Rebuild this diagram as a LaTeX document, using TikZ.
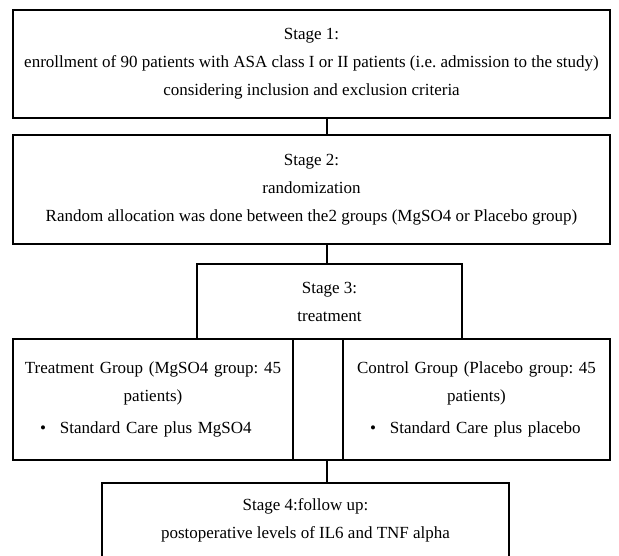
\documentclass[tikz,border=0pt]{standalone}
\usepackage{fontspec}
\setmainfont{Liberation Serif}
\newlength{\du}
\setlength{\du}{1pt}
\tikzset{
  stagebox/.style={draw, line width=1.3\du, align=center, inner sep=0pt,
    font=\fontsize{17}{28}\selectfont\frenchspacing},
  link/.style={draw, line width=1.2\du},
}
\newcommand{\bulletline}[1]{\makebox[\linewidth][l]{\hspace*{27\du}\textbullet\hspace{14\du}#1}}

\begin{document}
\begin{tikzpicture}
\pgftransformxscale{1.000000}
\pgftransformyscale{-1.000000}
\useasboundingbox (0\du,0\du) rectangle (619\du,555\du);
% the stages
\node[stagebox, minimum width=597\du, minimum height=108\du] (stageone) at (311.5\du,64\du)
  {Stage 1:\\ enrollment of 90 patients with ASA class I or II patients (i.e. admission to the study)\\ considering inclusion and exclusion criteria};
\node[stagebox, minimum width=597\du, minimum height=109\du] (stagetwo) at (311.5\du,189.5\du)
  {Stage 2:\\ randomization\\ Random allocation was done between the2 groups (MgSO4 or Placebo group)};
\node[stagebox, minimum width=265\du, minimum height=75\du] (stagethree) at (329.5\du,301.5\du)
  {Stage 3:\\ treatment};
% the two groups
\node[stagebox, minimum width=280\du, minimum height=121\du, text width=280\du] (treatgroup) at (153\du,399.5\du)
  {Treatment Group (MgSO4 group: 45\\ patients)\\[4\du] \bulletline{Standard Care plus MgSO4}};
\node[stagebox, minimum width=50\du, minimum height=121\du] (gap) at (318\du,399.5\du) {};
\node[stagebox, minimum width=267\du, minimum height=121\du, text width=267\du] (controlgroup) at (476.5\du,399.5\du)
  {Control Group (Placebo group: 45\\ patients)\\[4\du] \bulletline{Standard Care plus placebo}};
\node[stagebox, minimum width=407\du, minimum height=74\du] (stagefour) at (305.5\du,520\du)
  {Stage 4:follow up:\\ postoperative levels of IL6 and TNF alpha};
% connectors
\coordinate (spine) at (327\du,0\du);
\draw[link] (stageone.south -| spine) -- (stagetwo.north -| spine);
\draw[link] (stagetwo.south -| spine) -- (stagethree.north -| spine);
\draw[link] (gap.south -| spine) -- (stagefour.north -| spine);
\end{tikzpicture}
\end{document}
